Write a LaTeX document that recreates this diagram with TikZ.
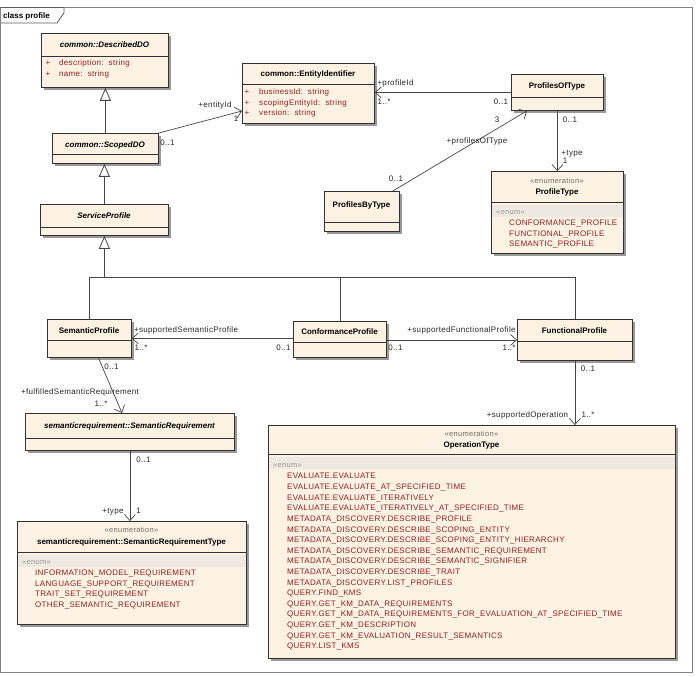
\documentclass[tikz,border=0pt]{standalone}
\usepackage{fontspec}
\setmainfont{Liberation Sans}
\newfontfamily\regsp[LetterSpace=4]{Liberation Sans}
\usetikzlibrary{arrows.meta,calc,shadows}
\definecolor{boxfill}{RGB}{252,242,228}
\definecolor{boxdraw}{RGB}{50,50,50}
\definecolor{linegray}{RGB}{70,70,70}
\definecolor{attrred}{RGB}{150,30,30}
\definecolor{bandc}{RGB}{238,232,224}
\definecolor{framec}{RGB}{130,130,130}
\definecolor{stgray}{RGB}{110,110,110}
\newcommand\fs{\fontsize{8}{9.5}\selectfont}
\tikzset{
  umlbox/.style={draw=boxdraw, line width=0.8pt, fill=boxfill, inner sep=0pt, anchor=north west,
    drop shadow={shadow xshift=2.5pt, shadow yshift=-2.5pt, fill=black!40, opacity=1}},
  sepline/.style={draw=boxdraw, line width=0.8pt},
  txt/.style={inner sep=0pt, text height=5.8pt, text depth=0pt, font=\fs\regsp},
  title/.style={txt, font=\fs\rmfamily\bfseries},
  atitle/.style={txt, font=\fs\rmfamily\bfseries\itshape},
  stereo/.style={txt, text=stgray, font=\fontsize{7.5}{9}\selectfont\regsp},
  attr/.style={txt, text=attrred, anchor=west},
  lbl/.style={txt, text=black!85},
  assoc/.style={draw=linegray, line width=0.7pt, -{Straight Barb[length=6pt, width=11pt]}},
  gen/.style={draw=linegray, line width=0.8pt, -{Triangle[open, length=13pt, width=11pt, fill=white]}},
  tree/.style={draw=linegray, line width=0.8pt},
}
\newcommand\umlbox[6]{%
  \node[umlbox, minimum width={(#4-#2)*1pt}, minimum height={(#5-#3)*1pt}] (#1) at (#2,#3) {};
  \draw[sepline] (#2,#6) -- (#4,#6);}
\begin{document}
\begin{tikzpicture}[x=1pt, y=-1pt]
\useasboundingbox (0,0) rectangle (700,676);
% frame
\draw[framec, line width=1pt] (0.6,7.5) rectangle (692.5,672);
\draw[framec!70!black, line width=0.8pt] (0.6,7.5) -- (64,7.5) -- (64,13) -- (57,23) -- (0.6,23);
\node[title, anchor=west] (frametitle) at (3,15.5) {class profile};

% boxes
\umlbox{DescribedDO}{41}{33}{168}{87}{56}
\node[atitle] (DescribedDO-t) at (104.5,45) {common::DescribedDO};
\node[txt, text=attrred] (DescribedDO-p1) at (48,63) {+};
\node[attr] (DescribedDO-a1) at (59,63) {description:\ \ string};
\node[txt, text=attrred] (DescribedDO-p2) at (48,74) {+};
\node[attr] (DescribedDO-a2) at (59,74) {name:\ \ string};

\umlbox{ScopedDO}{52}{133}{158}{163}{154}
\node[atitle] (ScopedDO-t) at (105,145) {common::ScopedDO};

\umlbox{ServiceProfile}{40}{204}{168}{235}{227}
\node[atitle] (ServiceProfile-t) at (104,216) {ServiceProfile};

\umlbox{EntityIdentifier}{242}{63}{374}{123}{84}
\node[title] (EntityIdentifier-t) at (308,74) {common::EntityIdentifier};
\node[txt, text=attrred] (EI-p1) at (247,92) {+};
\node[attr] (EI-a1) at (259,92) {businessId:\ \ string};
\node[txt, text=attrred] (EI-p2) at (247,103) {+};
\node[attr] (EI-a2) at (259,103) {scopingEntityId:\ \ string};
\node[txt, text=attrred] (EI-p3) at (247,113) {+};
\node[attr] (EI-a3) at (259,113) {version:\ \ string};

\umlbox{ProfilesOfType}{511}{74}{603}{110}{97}
\node[title] (ProfilesOfType-t) at (557,86) {ProfilesOfType};

\umlbox{ProfileType}{491}{171}{623}{253}{202}
\fill[bandc] (491.5,205) rectangle (622.5,217);
\node[stereo] (ProfileType-s) at (557,181) {«enumeration»};
\node[title] (ProfileType-t) at (557,192) {ProfileType};
\node[stereo, anchor=west, text=stgray!70] (ProfileType-e) at (496,212) {«enum»};
\node[attr] (PT1) at (509,223) {CONFORMANCE\_PROFILE};
\node[attr] (PT2) at (509,233.5) {FUNCTIONAL\_PROFILE};
\node[attr] (PT3) at (509,244) {SEMANTIC\_PROFILE};

\umlbox{ProfilesByType}{324}{191}{399}{231}{222}
\node[title] (ProfilesByType-t) at (361.5,205) {ProfilesByType};

\umlbox{SemanticProfile}{47}{319}{131}{357}{340}
\node[title] (SemanticProfile-t) at (89,331) {SemanticProfile};

\umlbox{ConformanceProfile}{293}{321}{386}{357}{342}
\node[title] (ConformanceProfile-t) at (339.5,332) {ConformanceProfile};

\umlbox{FunctionalProfile}{517}{319}{632}{360}{341}
\node[title] (FunctionalProfile-t) at (574.5,331) {FunctionalProfile};

\umlbox{SemanticRequirement}{25}{413}{234}{450}{438}
\node[atitle] (SemanticRequirement-t) at (129.5,425.5) {semanticrequirement::SemanticRequirement};

\umlbox{SemanticRequirementType}{17}{521}{246}{624}{552}
\fill[bandc] (17.5,555) rectangle (245.5,567);
\node[stereo] (SRT-s) at (131.5,530) {«enumeration»};
\node[title] (SRT-t) at (131.5,542) {semanticrequirement::SemanticRequirementType};
\node[stereo, anchor=west, text=stgray!70] (SRT-e) at (22,562) {«enum»};
\node[attr] (SRT1) at (35,573) {INFORMATION\_MODEL\_REQUIREMENT};
\node[attr] (SRT2) at (35,583.5) {LANGUAGE\_SUPPORT\_REQUIREMENT};
\node[attr] (SRT3) at (35,594) {TRAIT\_SET\_REQUIREMENT};
\node[attr] (SRT4) at (35,604.5) {OTHER\_SEMANTIC\_REQUIREMENT};

\umlbox{OperationType}{268}{425}{675}{658}{454}
\fill[bandc] (268.5,457) rectangle (674.5,469);
\node[stereo] (OT-s) at (471.5,434) {«enumeration»};
\node[title] (OT-t) at (471.5,445) {OperationType};
\node[stereo, anchor=west, text=stgray!70] (OT-e) at (273,464.5) {«enum»};
\foreach \t [count=\i] in {EVALUATE.EVALUATE,
  EVALUATE.EVALUATE\_AT\_SPECIFIED\_TIME,
  EVALUATE.EVALUATE\_ITERATIVELY,
  EVALUATE.EVALUATE\_ITERATIVELY\_AT\_SPECIFIED\_TIME,
  METADATA\_DISCOVERY.DESCRIBE\_PROFILE,
  METADATA\_DISCOVERY.DESCRIBE\_SCOPING\_ENTITY,
  METADATA\_DISCOVERY.DESCRIBE\_SCOPING\_ENTITY\_HIERARCHY,
  METADATA\_DISCOVERY.DESCRIBE\_SEMANTIC\_REQUIREMENT,
  METADATA\_DISCOVERY.DESCRIBE\_SEMANTIC\_SIGNIFIER,
  METADATA\_DISCOVERY.DESCRIBE\_TRAIT,
  METADATA\_DISCOVERY.LIST\_PROFILES,
  QUERY.FIND\_KMS,
  QUERY.GET\_KM\_DATA\_REQUIREMENTS,
  QUERY.GET\_KM\_DATA\_REQUIREMENTS\_FOR\_EVALUATION\_AT\_SPECIFIED\_TIME,
  QUERY.GET\_KM\_DESCRIPTION,
  QUERY.GET\_KM\_EVALUATION\_RESULT\_SEMANTICS,
  QUERY.LIST\_KMS}
  {\node[attr] (OT\i) at (287,{476+(\i-1)*10.62}) {\t};}

% generalizations
\draw[gen] (ScopedDO.north) -- (ScopedDO.north |- DescribedDO.south);
\draw[gen] (ServiceProfile.north) -- (ServiceProfile.north |- ScopedDO.south);
\coordinate (bus) at (0,277);
\draw[tree] (SemanticProfile.north) -- (SemanticProfile.north |- bus) -- (FunctionalProfile.north |- bus) -- (FunctionalProfile.north);
\draw[tree] (ConformanceProfile.north) -- (ConformanceProfile.north |- bus);
\draw[gen] (ServiceProfile.south |- bus) -- (ServiceProfile.south);

% associations
\draw[assoc] (ScopedDO.north east) -- ($(EntityIdentifier.north west)+(0,48)$);
\node[lbl] (l-entityId) at (215,105) {+entityId};
\node[lbl] (l-ei1) at (236,119) {1};
\node[lbl] (l-sdo01) at (167.5,143) {0..1};

\draw[assoc] (ProfilesOfType.west) -- (ProfilesOfType.west -| EntityIdentifier.east);
\node[lbl] (l-profileId) at (395.5,82.5) {+profileId};
\node[lbl] (l-pid1) at (384,102) {1..*};
\node[lbl] (l-pot01) at (501,102) {0..1};

\draw[assoc] ($(ProfilesByType.north east)+(-7,0)$) -- ($(ProfilesOfType.south west)+(16,0)$);
\node[lbl] (l-3) at (497,120) {3};
\node[lbl] (l-pot) at (477,141) {+profilesOfType};
\node[lbl] (l-pbt01) at (396,178.5) {0..1};

\draw[assoc] (ProfilesOfType.south) -- (ProfileType.north);
\node[lbl] (l-pt01) at (570,119.5) {0..1};
\node[lbl] (l-type) at (572,153) {+type};
\node[lbl] (l-type1) at (565,161) {1};

\draw[assoc] (ConformanceProfile.west |- SemanticProfile.east) -- (SemanticProfile.east);
\node[lbl] (l-ssp) at (186,329.5) {+supportedSemanticProfile};
\node[lbl] (l-ssp1) at (141,348) {1..*};
\node[lbl] (l-cp01a) at (283.5,348) {0..1};

\draw[assoc] (ConformanceProfile.east |- FunctionalProfile.west) -- (FunctionalProfile.west);
\node[lbl] (l-sfp) at (461.5,330) {+supportedFunctionalProfile};
\node[lbl] (l-cp01b) at (395.5,348) {0..1};
\node[lbl] (l-sfp1) at (509,348) {1..*};

\draw[assoc] ($(SemanticProfile.south)+(9,0)$) -- ($(SemanticRequirement.north west)+(97,0)$);
\node[lbl] (l-sp01) at (111.5,367) {0..1};
\node[lbl] (l-fsr) at (80,392) {+fulfilledSemanticRequirement};
\node[lbl] (l-fsr1) at (101,404) {1..*};

\draw[assoc] (SemanticRequirement.south) -- (SemanticRequirement.south |- SemanticRequirementType.north);
\node[lbl] (l-sr01) at (143.5,460) {0..1};
\node[lbl] (l-srtype) at (113,511) {+type};
\node[lbl] (l-srtype1) at (138.5,511) {1};

\draw[assoc] (FunctionalProfile.south) -- (FunctionalProfile.south |- OperationType.north);
\node[lbl] (l-fp01) at (588,369) {0..1};
\node[lbl] (l-so) at (527.5,415) {+supportedOperation};
\node[lbl] (l-so1) at (588,415) {1..*};
\end{tikzpicture}
\end{document}
